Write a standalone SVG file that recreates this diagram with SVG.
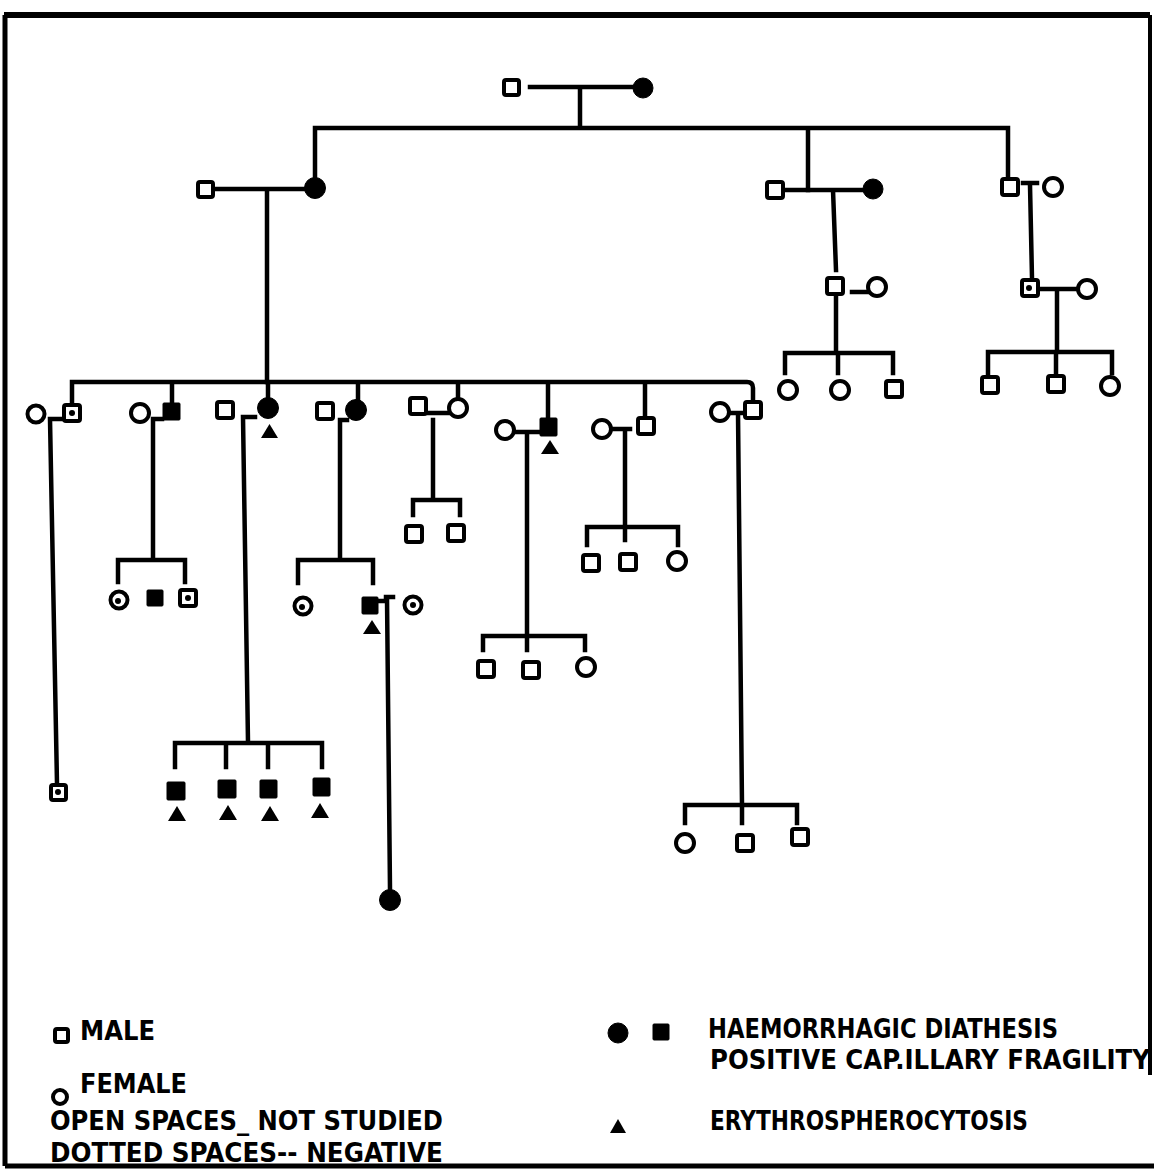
<svg xmlns="http://www.w3.org/2000/svg" width="1154" height="1173" viewBox="0 0 1154 1173">
<style>
.m{fill:#fff;stroke:#000;stroke-width:4}
.f{fill:#fff;stroke:#000;stroke-width:4}
.a{fill:#000;stroke:#000;stroke-width:1}
.t{fill:#000}
.d{fill:#000}
.ln{fill:none;stroke:#000;stroke-width:4.5;stroke-linecap:square;stroke-linejoin:miter}
.lg{font-family:"DejaVu Sans Condensed","DejaVu Sans","Liberation Sans",sans-serif;font-weight:bold;font-size:26px;fill:#000}
.fr{fill:none;stroke:#000}
</style>
<rect width="1154" height="1173" fill="#fff"/>
<g id="frame">
<path class="fr" stroke-width="6" d="M4,15 H1150"/>
<path class="fr" stroke-width="5" d="M5,15 V1166"/>
<path class="fr" stroke-width="4" d="M1150,15 V1075"/>
<path class="fr" stroke-width="5" d="M5,1166 H1154"/>
</g>
<g id="connectors">
<path class="ln" d="M530,87 H633 M580,87 V128 M315,128 H1008 M315,128 V178 M808,128 V190 M1008,128 V178"/>
<path class="ln" d="M213,189 H305 M267,189 V382"/>
<path class="ln" d="M783,190 H863 M833,190 L836,270 M852,292 H867 M836,295 V353 M785,373 V353 H893 V373 M838,353 V373"/>
<path class="ln" d="M1023,183 H1037 M1030,185 L1032,278 M1038,289 H1077 M1057,289 V352 M988,373 V352 H1112 V373 M1056,352 V373"/>
<path class="ln" d="M72,404 V382 H747 Q753,382 753,388 V401 M172,382 V403 M268,382 V398 M358,382 V400 M458,382 V399 M548,382 V418 M645,382 V417"/>
<path class="ln" d="M63,419 H50 L57,784"/>
<path class="ln" d="M162,419 H153 V560 M118,582 V560 H185 V582"/>
<path class="ln" d="M255,417 H243 L248,742 M175,767 V743 H322 V767 M226,743 V767 M268,743 V767"/>
<path class="ln" d="M347,420 H340 V560 M298,583 V560 H373 V583"/>
<path class="ln" d="M378,601 H386 M386,597 H393 M387,598 L390,889"/>
<path class="ln" d="M427,413 H448 M433,420 V500 M413,515 V500 H460 V515"/>
<path class="ln" d="M514,432 H540 M527,432 V636 M483,650 V636 H585 V650 M527,636 V650"/>
<path class="ln" d="M611,429 H630 M625,429 V527 M587,545 V527 H678 V545 M625,527 V540"/>
<path class="ln" d="M729,413 H745 M738,413 L742,805 M685,823 V805 H797 V823 M742,805 V823"/>
</g>
<g id="I-1"><rect class="m" x="504" y="80" width="15" height="15" rx="2"/></g>
<g id="I-2"><circle class="a" cx="643" cy="88" r="10"/></g>
<g id="II-1"><rect class="m" x="198" y="182" width="15" height="15" rx="2"/></g>
<g id="II-2"><circle class="a" cx="315" cy="188" r="10.5"/></g>
<g id="II-3"><rect class="m" x="767" y="182" width="16" height="16" rx="2"/></g>
<g id="II-4"><circle class="a" cx="873" cy="189" r="10"/></g>
<g id="II-5"><rect class="m" x="1002" y="179" width="16" height="16" rx="2"/></g>
<g id="II-6"><circle class="f" cx="1053" cy="187" r="9"/></g>
<g id="III-R1"><rect class="m" x="827" y="278" width="16" height="16" rx="2"/></g>
<g id="III-R2"><circle class="f" cx="877" cy="287" r="9"/></g>
<g id="III-R3"><rect class="m" x="1022" y="280" width="16" height="16" rx="2"/><circle class="d" cx="1029" cy="288" r="3"/></g>
<g id="III-R4"><circle class="f" cx="1087" cy="289" r="9"/></g>
<g id="IV-R1"><circle class="f" cx="788" cy="390" r="9"/></g>
<g id="IV-R2"><circle class="f" cx="840" cy="390" r="9"/></g>
<g id="IV-R3"><rect class="m" x="886" y="381" width="16" height="16" rx="2"/></g>
<g id="IV-R4"><rect class="m" x="982" y="377" width="16" height="16" rx="2"/></g>
<g id="IV-R5"><rect class="m" x="1048" y="376" width="16" height="16" rx="2"/></g>
<g id="IV-R6"><circle class="f" cx="1110" cy="386" r="9"/></g>
<g id="III-1w"><circle class="f" cx="36" cy="414" r="8.5"/></g>
<g id="III-1"><rect class="m" x="64" y="405" width="16" height="16" rx="2"/><circle class="d" cx="72" cy="413" r="3"/></g>
<g id="IV-1"><rect class="m" x="51" y="785" width="15" height="15" rx="2"/><circle class="d" cx="58" cy="792" r="3"/></g>
<g id="III-2w"><circle class="f" cx="140" cy="413" r="9"/></g>
<g id="III-2"><rect class="a" x="163" y="403" width="17" height="17" rx="1"/></g>
<g id="IV-2"><circle class="f" cx="119" cy="600" r="8.5"/><circle class="d" cx="118" cy="601" r="3"/></g>
<g id="IV-3"><rect class="a" x="147" y="590" width="16" height="16" rx="1"/></g>
<g id="IV-4"><rect class="m" x="180" y="590" width="16" height="16" rx="2"/><circle class="d" cx="188" cy="598" r="3"/></g>
<g id="III-3h"><rect class="m" x="217" y="402" width="16" height="16" rx="2"/></g>
<g id="III-3"><circle class="a" cx="268" cy="408" r="10.5"/><path class="t" d="M261,438 L269.5,424 L278,438 Z"/></g>
<g id="IV-5"><rect class="a" x="167" y="782" width="18" height="18" rx="1"/><path class="t" d="M168,821 L177,806 L186,821 Z"/></g>
<g id="IV-6"><rect class="a" x="218" y="780" width="18" height="18" rx="1"/><path class="t" d="M219,820 L228,805 L237,820 Z"/></g>
<g id="IV-7"><rect class="a" x="260" y="780" width="17" height="18" rx="1"/><path class="t" d="M261,821 L270,806 L279,821 Z"/></g>
<g id="IV-8"><rect class="a" x="313" y="778" width="17" height="18" rx="1"/><path class="t" d="M311,818 L320,803 L329,818 Z"/></g>
<g id="III-4h"><rect class="m" x="317" y="403" width="16" height="16" rx="2"/></g>
<g id="III-4"><circle class="a" cx="356" cy="410" r="10.5"/></g>
<g id="IV-9"><circle class="f" cx="303" cy="606" r="8.5"/><circle class="d" cx="302" cy="607" r="3"/></g>
<g id="IV-10"><rect class="a" x="362" y="597" width="16" height="17" rx="1"/><path class="t" d="M363,634 L372,620 L381,634 Z"/></g>
<g id="IV-10w"><circle class="f" cx="413" cy="605" r="8.5"/><circle class="d" cx="413" cy="605" r="3"/></g>
<g id="V-1"><circle class="a" cx="390" cy="900" r="10.5"/></g>
<g id="III-5h"><rect class="m" x="410" y="398" width="16" height="16" rx="2"/></g>
<g id="III-5"><circle class="f" cx="458" cy="408" r="9"/></g>
<g id="IV-11"><rect class="m" x="406" y="526" width="16" height="16" rx="2"/></g>
<g id="IV-12"><rect class="m" x="448" y="525" width="16" height="16" rx="2"/></g>
<g id="III-6w"><circle class="f" cx="505" cy="430" r="9"/></g>
<g id="III-6"><rect class="a" x="540" y="418" width="17" height="18" rx="1"/><path class="t" d="M541,454 L550,440 L559,454 Z"/></g>
<g id="IV-13"><rect class="m" x="478" y="661" width="16" height="16" rx="2"/></g>
<g id="IV-14"><rect class="m" x="523" y="662" width="16" height="16" rx="2"/></g>
<g id="IV-15"><circle class="f" cx="586" cy="667" r="9"/></g>
<g id="III-7w"><circle class="f" cx="602" cy="429" r="9"/></g>
<g id="III-7"><rect class="m" x="638" y="418" width="16" height="16" rx="2"/></g>
<g id="IV-16"><rect class="m" x="583" y="555" width="16" height="16" rx="2"/></g>
<g id="IV-17"><rect class="m" x="620" y="554" width="16" height="16" rx="2"/></g>
<g id="IV-18"><circle class="f" cx="677" cy="561" r="9"/></g>
<g id="III-8w"><circle class="f" cx="720" cy="412" r="9"/></g>
<g id="III-8"><rect class="m" x="745" y="402" width="16" height="16" rx="2"/></g>
<g id="IV-19"><circle class="f" cx="685" cy="843" r="9"/></g>
<g id="IV-20"><rect class="m" x="737" y="835" width="16" height="16" rx="2"/></g>
<g id="IV-21"><rect class="m" x="792" y="829" width="16" height="16" rx="2"/></g>
<g id="legend">
<rect class="m" x="55" y="1029" width="13" height="13" rx="2" stroke-width="3"/>
<text class="lg" x="80" y="1040" textLength="75" lengthAdjust="spacingAndGlyphs">MALE</text>
<circle class="f" cx="60" cy="1097" r="7" stroke-width="3"/>
<text class="lg" x="80" y="1093" textLength="107" lengthAdjust="spacingAndGlyphs">FEMALE</text>
<text class="lg" x="50" y="1130" textLength="393" lengthAdjust="spacingAndGlyphs">OPEN SPACES_ NOT STUDIED</text>
<text class="lg" x="50" y="1162" textLength="393" lengthAdjust="spacingAndGlyphs">DOTTED SPACES-- NEGATIVE</text>
<circle class="a" cx="618" cy="1033" r="10"/>
<rect class="a" x="653" y="1024" width="16" height="16" rx="1"/>
<text class="lg" x="708" y="1038" textLength="350" lengthAdjust="spacingAndGlyphs">HAEMORRHAGIC DIATHESIS</text>
<text class="lg" x="710" y="1069" textLength="440" lengthAdjust="spacingAndGlyphs">POSITIVE CAP.ILLARY FRAGILITY</text>
<path class="t" d="M610,1133 L618,1119 L626,1133 Z"/>
<text class="lg" x="710" y="1130" textLength="318" lengthAdjust="spacingAndGlyphs">ERYTHROSPHEROCYTOSIS</text>
</g>
</svg>
